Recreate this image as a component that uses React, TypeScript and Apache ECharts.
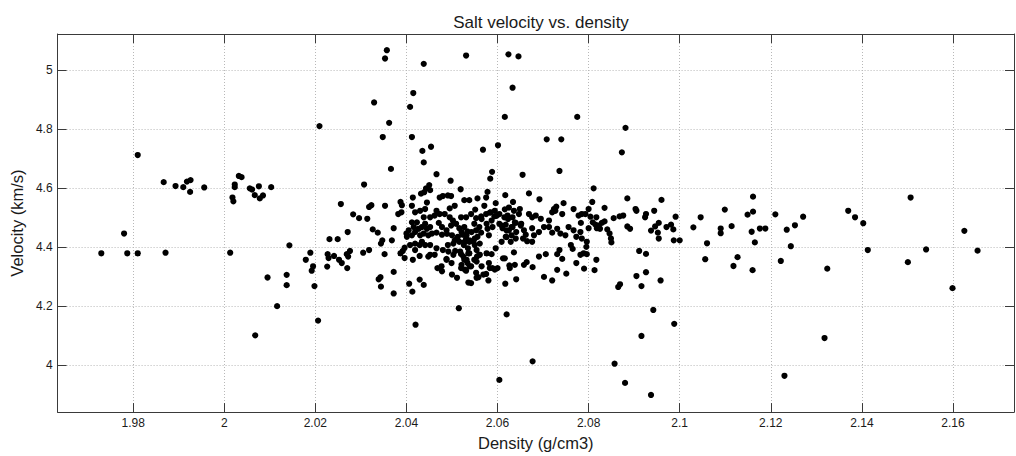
import React, { useEffect, useRef } from "react";
import * as echarts from "echarts";

// [density g/cm3, velocity km/s]
const lowDensityPoints: number[][] = [
  [1.973, 4.38], [1.978, 4.447], [1.9787, 4.38], [1.981, 4.713], [1.981, 4.38],
  [1.9867, 4.621], [1.9871, 4.382], [1.9893, 4.608], [1.991, 4.604], [1.9918, 4.623],
  [1.9926, 4.628], [1.9925, 4.588], [1.9956, 4.603], [2.0013, 4.382], [2.0018, 4.569],
  [2.002, 4.556], [2.0023, 4.613], [2.0023, 4.604], [2.0032, 4.642], [2.0038, 4.638],
  [2.0056, 4.6], [2.0061, 4.596], [2.0067, 4.577], [2.0076, 4.607], [2.0078, 4.566],
  [2.0085, 4.576], [2.0068, 4.102], [2.0095, 4.298], [2.0103, 4.604], [2.0116, 4.201],
  [2.0137, 4.272], [2.0137, 4.307], [2.0143, 4.407], [2.0209, 4.811],
];

const highVelocityPoints: number[][] = [
  [2.0357, 5.068], [2.0353, 5.04], [2.0438, 5.022], [2.0531, 5.05], [2.0624, 5.054],
  [2.0646, 5.047], [2.0633, 4.941], [2.0415, 4.923], [2.0329, 4.891], [2.0408, 4.876],
  [2.0616, 4.842], [2.0775, 4.842], [2.0362, 4.822], [2.0881, 4.805], [2.0348, 4.774],
  [2.0412, 4.774], [2.0708, 4.766], [2.074, 4.766], [2.0435, 4.727], [2.0454, 4.741],
  [2.0568, 4.731], [2.0601, 4.746], [2.0873, 4.722],
];

const lowVelocityPoints: number[][] = [
  [2.042, 4.138], [2.062, 4.173], [2.0677, 4.014], [2.0604, 3.951], [2.0857, 4.006],
  [2.088, 3.941], [2.0937, 3.9], [2.0916, 4.1], [2.0988, 4.141],
];

const clusterWest: number[][] = [
  [2.0438, 4.688], [2.0366, 4.666], [2.0307, 4.613], [2.0443, 4.6], [2.045, 4.611],
  [2.0452, 4.594], [2.0432, 4.582], [2.0439, 4.587], [2.0414, 4.569], [2.0256, 4.547],
  [2.0318, 4.537], [2.0323, 4.543], [2.0353, 4.541], [2.0387, 4.554], [2.039, 4.543],
  [2.0412, 4.541], [2.0283, 4.512], [2.0296, 4.499], [2.0314, 4.497], [2.0382, 4.513],
  [2.0389, 4.519], [2.0419, 4.519], [2.0412, 4.485], [2.0372, 4.465], [2.0326, 4.461],
  [2.0337, 4.45], [2.0271, 4.452], [2.0347, 4.424], [2.0344, 4.413], [2.0368, 4.424],
  [2.0231, 4.428], [2.0249, 4.428], [2.0318, 4.391], [2.0305, 4.382], [2.0276, 4.388],
  [2.0269, 4.377], [2.0272, 4.369], [2.0227, 4.377], [2.0229, 4.364], [2.0189, 4.382],
  [2.0241, 4.371], [2.0252, 4.358], [2.0258, 4.347], [2.0179, 4.358], [2.0226, 4.335],
  [2.0195, 4.336], [2.0192, 4.321], [2.027, 4.33], [2.0352, 4.377], [2.0387, 4.38],
  [2.0392, 4.388], [2.0396, 4.399], [2.0396, 4.364], [2.0414, 4.358], [2.0429, 4.371],
  [2.0419, 4.391], [2.0372, 4.317], [2.0343, 4.299], [2.0339, 4.292], [2.0344, 4.267],
  [2.0372, 4.244], [2.0406, 4.277], [2.0413, 4.25], [2.0429, 4.291], [2.0438, 4.273],
  [2.0198, 4.269], [2.0206, 4.152],
  [2.04, 4.447], [2.0405, 4.458], [2.0412, 4.441], [2.0419, 4.452], [2.0427, 4.463],
  [2.0434, 4.469], [2.0441, 4.48], [2.0445, 4.463], [2.0452, 4.469], [2.043, 4.441],
  [2.0438, 4.447], [2.0448, 4.441], [2.0456, 4.447], [2.0434, 4.419], [2.0441, 4.408],
  [2.0452, 4.408], [2.0408, 4.408], [2.0419, 4.413], [2.0429, 4.408], [2.0448, 4.369],
  [2.0416, 4.469], [2.0423, 4.485], [2.0438, 4.502], [2.0452, 4.502], [2.043, 4.524],
  [2.0441, 4.53], [2.0445, 4.552], [2.0452, 4.375], [2.0401, 4.436],
];

const clusterCore: number[][] = [
  [2.0466, 4.648], [2.0497, 4.626], [2.0588, 4.656], [2.0584, 4.633], [2.0655, 4.646],
  [2.0736, 4.659], [2.0519, 4.597], [2.0578, 4.588], [2.0617, 4.577], [2.0669, 4.583],
  [2.0692, 4.563], [2.0745, 4.55], [2.0634, 4.554],
  [2.0473, 4.569], [2.048, 4.574], [2.0491, 4.576], [2.0498, 4.574], [2.0527, 4.56],
  [2.0538, 4.56], [2.0556, 4.566], [2.0575, 4.569], [2.0596, 4.55], [2.0625, 4.535],
  [2.0649, 4.53], [2.0551, 4.528], [2.0571, 4.541], [2.0495, 4.532], [2.0506, 4.541],
  [2.0466, 4.524], [2.0473, 4.513], [2.0462, 4.508], [2.0484, 4.513], [2.0495, 4.502],
  [2.0502, 4.491], [2.0509, 4.48], [2.0498, 4.474],
  [2.052, 4.502], [2.0531, 4.502], [2.0542, 4.513], [2.0553, 4.499], [2.0564, 4.505],
  [2.0575, 4.513], [2.0585, 4.519],
  [2.0593, 4.505], [2.0604, 4.513], [2.0615, 4.502], [2.0622, 4.508], [2.0633, 4.502],
  [2.0636, 4.524], [2.0647, 4.513],
  [2.0669, 4.513], [2.0676, 4.502], [2.0684, 4.508], [2.0695, 4.497], [2.0713, 4.491],
  [2.072, 4.519], [2.0727, 4.524], [2.0742, 4.513], [2.0724, 4.53], [2.0729, 4.538],
  [2.0767, 4.53], [2.0778, 4.508], [2.0785, 4.513],
  [2.0471, 4.483], [2.0478, 4.469], [2.0488, 4.458], [2.0478, 4.443], [2.0466, 4.45],
  [2.0516, 4.465], [2.0527, 4.469], [2.0534, 4.454], [2.0524, 4.443], [2.0513, 4.436],
  [2.0506, 4.424], [2.0516, 4.419], [2.0531, 4.43], [2.0538, 4.419], [2.0526, 4.408],
  [2.0535, 4.397],
  [2.0549, 4.48], [2.056, 4.469], [2.0553, 4.458], [2.0564, 4.45], [2.0578, 4.463],
  [2.0589, 4.469], [2.0581, 4.441], [2.0556, 4.436], [2.0547, 4.419],
  [2.0604, 4.48], [2.0611, 4.465], [2.0618, 4.477], [2.0625, 4.458], [2.0633, 4.469],
  [2.064, 4.483], [2.0651, 4.474], [2.0658, 4.458], [2.0662, 4.443], [2.0676, 4.465],
  [2.068, 4.441], [2.0691, 4.452], [2.0702, 4.469], [2.0713, 4.469], [2.072, 4.45],
  [2.0731, 4.463], [2.0738, 4.447], [2.0749, 4.441], [2.0756, 4.469], [2.0767, 4.458],
  [2.0782, 4.452], [2.0783, 4.483], [2.0773, 4.436],
  [2.0618, 4.436], [2.0629, 4.419], [2.064, 4.43], [2.0665, 4.421], [2.0676, 4.419],
  [2.0609, 4.419],
  [2.0491, 4.408], [2.048, 4.391], [2.0466, 4.397], [2.0462, 4.375], [2.0488, 4.361],
  [2.0477, 4.336], [2.0468, 4.33], [2.0478, 4.319],
  [2.0507, 4.388], [2.052, 4.377], [2.0538, 4.38], [2.0527, 4.358], [2.0534, 4.347],
  [2.052, 4.33], [2.0531, 4.321], [2.0542, 4.336], [2.0549, 4.358], [2.0555, 4.369],
  [2.056, 4.375],
  [2.0576, 4.38], [2.0587, 4.377], [2.0596, 4.397], [2.0581, 4.347], [2.0589, 4.33],
  [2.06, 4.33],
  [2.0616, 4.363], [2.0626, 4.339], [2.0636, 4.383], [2.0658, 4.341], [2.0664, 4.35],
  [2.0677, 4.333], [2.0691, 4.369], [2.0706, 4.377], [2.0731, 4.377], [2.0742, 4.361],
  [2.0736, 4.391], [2.0761, 4.408], [2.0765, 4.395], [2.0773, 4.347], [2.0782, 4.375],
  [2.0785, 4.43],
  [2.0553, 4.314], [2.0558, 4.299], [2.0542, 4.279], [2.0575, 4.31], [2.058, 4.288],
  [2.0617, 4.277], [2.0641, 4.292], [2.0702, 4.3], [2.072, 4.288], [2.0731, 4.324],
  [2.0751, 4.311], [2.0515, 4.194],
];

const clusterCoreDense: number[][] = [
  [2.0489, 4.446], [2.05, 4.441], [2.0511, 4.43], [2.0503, 4.413], [2.0518, 4.386],
  [2.0525, 4.369], [2.0536, 4.38], [2.0532, 4.358], [2.0521, 4.341], [2.0528, 4.325],
  [2.0539, 4.336], [2.0554, 4.391], [2.0561, 4.375], [2.0554, 4.352], [2.0565, 4.336],
  [2.0492, 4.386], [2.0503, 4.375], [2.0488, 4.358], [2.0499, 4.347], [2.0543, 4.452],
  [2.0532, 4.441], [2.0521, 4.452], [2.0539, 4.424], [2.0528, 4.419], [2.055, 4.43],
  [2.055, 4.408], [2.0561, 4.413], [2.0569, 4.308], [2.0554, 4.297], [2.05, 4.308],
  [2.0511, 4.297], [2.0536, 4.281], [2.0583, 4.33], [2.0594, 4.325], [2.0612, 4.363],
  [2.0627, 4.33], [2.0638, 4.341], [2.0609, 4.474], [2.062, 4.457], [2.0631, 4.469],
  [2.0641, 4.452], [2.062, 4.435], [2.0631, 4.441], [2.0656, 4.43], [2.0576, 4.48],
  [2.0587, 4.491], [2.0565, 4.496], [2.0598, 4.507], [2.0623, 4.496], [2.0638, 4.485],
  [2.0652, 4.48], [2.0583, 4.518], [2.0594, 4.524], [2.0616, 4.529],
];

const clusterEast: number[][] = [
  [2.0811, 4.6], [2.0885, 4.566], [2.096, 4.561], [2.0808, 4.554], [2.0903, 4.53],
  [2.0905, 4.524], [2.0926, 4.513], [2.0924, 4.502], [2.0944, 4.524], [2.0991, 4.504],
  [2.0835, 4.534],
  [2.0793, 4.513], [2.08, 4.53], [2.0804, 4.504], [2.0817, 4.502],
  [2.0809, 4.485], [2.0815, 4.477], [2.0822, 4.474], [2.0829, 4.483], [2.0835, 4.488],
  [2.08, 4.465], [2.0818, 4.465], [2.0825, 4.463],
  [2.0841, 4.461], [2.0846, 4.447], [2.0849, 4.43], [2.085, 4.417],
  [2.0855, 4.499], [2.0868, 4.505], [2.0876, 4.508],
  [2.0885, 4.471], [2.0891, 4.463],
  [2.0937, 4.457], [2.0946, 4.471], [2.0954, 4.483], [2.0952, 4.45], [2.0954, 4.43],
  [2.0971, 4.469], [2.0981, 4.477], [2.0986, 4.461], [2.0987, 4.424], [2.1, 4.424],
  [2.103, 4.468], [2.1046, 4.502],
  [2.0796, 4.419], [2.0795, 4.402], [2.0789, 4.38], [2.0796, 4.377],
  [2.0817, 4.358], [2.079, 4.328], [2.0813, 4.323],
  [2.0911, 4.388], [2.0926, 4.378],
  [2.0926, 4.316], [2.0905, 4.303], [2.0916, 4.269], [2.0958, 4.288],
  [2.0865, 4.266], [2.0869, 4.275], [2.0942, 4.188],
];

const highDensityPoints: number[][] = [
  [2.106, 4.414], [2.1056, 4.36], [2.109, 4.464], [2.109, 4.448], [2.1099, 4.528],
  [2.1114, 4.472], [2.1118, 4.337], [2.1127, 4.367], [2.1149, 4.511], [2.1161, 4.572],
  [2.1161, 4.521], [2.1158, 4.453], [2.1165, 4.417], [2.116, 4.323], [2.1176, 4.464],
  [2.1188, 4.464], [2.121, 4.512], [2.1222, 4.354], [2.1235, 4.46], [2.1244, 4.404],
  [2.1253, 4.475], [2.1271, 4.504], [2.123, 3.965], [2.1318, 4.093], [2.1324, 4.328],
  [2.137, 4.524], [2.1385, 4.502], [2.1403, 4.482], [2.1413, 4.391], [2.1507, 4.569],
  [2.1501, 4.35], [2.1541, 4.393], [2.1599, 4.262], [2.1625, 4.456], [2.1654, 4.389],
];

const xTicks = [1.98, 2, 2.02, 2.04, 2.06, 2.08, 2.1, 2.12, 2.14, 2.16];
const yTicks = [4, 4.2, 4.4, 4.6, 4.8, 5];
const xRange = [1.9634, 2.1734];
const yRange = [3.842, 5.123];

const FONT = "'Liberation Sans', Arial, Helvetica, sans-serif";

export default function App() {
  const ref = useRef<HTMLDivElement>(null);
  useEffect(() => {
    if (!ref.current) return;
    const chart = echarts.init(ref.current, undefined, { renderer: "svg" });
    const allPoints = [
      ...lowDensityPoints,
      ...highVelocityPoints,
      ...lowVelocityPoints,
      ...clusterWest,
      ...clusterCore,
      ...clusterCoreDense,
      ...clusterEast,
      ...highDensityPoints,
    ];
    const axisLine = { show: true, onZero: false, lineStyle: { color: "#3a3a3a", width: 1 } };
    const tick = { show: true, inside: true, length: 9, lineStyle: { color: "#3a3a3a", width: 1 } };
    const split = { show: true, lineStyle: { color: "#b8b8b8", width: 1, type: [1, 2] as any } };
    chart.setOption({
      animation: false,
      backgroundColor: "#ffffff",
      title: {
        text: "Salt velocity vs. density",
        left: 536,
        top: 9,
        textAlign: "center",
        textStyle: { fontFamily: FONT, fontSize: 17, fontWeight: "normal", color: "#1a1a1a" },
      },
      grid: { left: 53, right: 2, top: 34, bottom: 35, containLabel: false },
      xAxis: [
        {
          type: "value",
          min: xRange[0],
          max: xRange[1],
          position: "bottom",
          name: "Density (g/cm3)",
          nameLocation: "middle",
          nameGap: 17,
          nameTextStyle: { fontFamily: FONT, fontSize: 16.5, color: "#1a1a1a" },
          axisLine,
          axisTick: { ...tick, customValues: xTicks },
          axisLabel: {
            customValues: xTicks,
            fontFamily: FONT,
            fontSize: 12,
            color: "#1a1a1a",
            margin: 5,
            formatter: (v: number) => String(v),
          },
          splitLine: split,
        },
        {
          type: "value",
          min: xRange[0],
          max: xRange[1],
          position: "top",
          axisLine,
          axisTick: { ...tick, customValues: xTicks },
          axisLabel: { show: false },
          splitLine: { show: false },
        },
      ],
      yAxis: [
        {
          type: "value",
          min: yRange[0],
          max: yRange[1],
          position: "left",
          name: "Velocity (km/s)",
          nameLocation: "middle",
          nameGap: 25,
          nameTextStyle: { fontFamily: FONT, fontSize: 16.5, color: "#1a1a1a" },
          axisLine,
          axisTick: { ...tick, customValues: yTicks },
          axisLabel: {
            customValues: yTicks,
            fontFamily: FONT,
            fontSize: 12,
            color: "#1a1a1a",
            margin: 5,
            formatter: (v: number) => String(v),
          },
          splitLine: split,
        },
        {
          type: "value",
          min: yRange[0],
          max: yRange[1],
          position: "right",
          axisLine,
          axisTick: { ...tick, customValues: yTicks },
          axisLabel: { show: false },
          splitLine: { show: false },
        },
      ],
      series: [
        {
          type: "scatter",
          xAxisIndex: 0,
          yAxisIndex: 0,
          data: allPoints,
          symbol: "circle",
          symbolSize: 6.2,
          itemStyle: { color: "#000000", opacity: 1 },
          silent: true,
        },
      ],
    });
    return () => chart.dispose();
  }, []);
  return (
    <div
      ref={ref}
      style={{ position: "fixed", left: 0, top: 0, width: 1016, height: 456, background: "#fff" }}
    />
  );
}
